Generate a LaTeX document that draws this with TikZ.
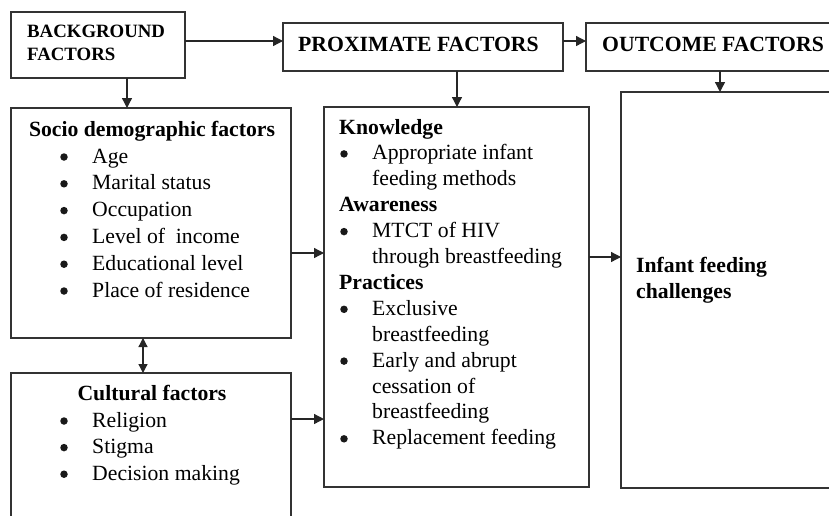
\documentclass[tikz,border=0pt]{standalone}
\usepackage{fontspec}
\setmainfont{Liberation Serif}
\usetikzlibrary{arrows.meta, positioning}

\tikzset{
  box/.style={draw=black!80, line width=1.4pt, inner sep=0pt, outer sep=0pt, anchor=north west},
  link/.style={draw=black!85, line width=1.3pt, -{Triangle[length=10pt,width=10pt]}},
  both/.style={draw=black!85, line width=1.3pt, {Triangle[length=9pt,width=9pt]}-{Triangle[length=9pt,width=9pt]}},
  txt/.style={inner sep=0pt, anchor=base west, font=\fontsize{21.7}{26.8}\selectfont},
  head/.style={txt, font=\bfseries\fontsize{21.7}{26.8}\selectfont},
  small/.style={txt, font=\bfseries\fontsize{18.8}{23}\selectfont},
  dot/.style={circle, fill=black!90, inner sep=0pt, minimum size=7.5pt},
}

\begin{document}
\begin{tikzpicture}[x=1pt, y=-1pt]
    % 画布大小
    \useasboundingbox (0,0) rectangle (829,515);
    \clip (0,0) rectangle (829,515);

    % 顶部三个方框
    \node[box, minimum width=174pt, minimum height=66pt] (bg) at (11,12) {};
    \node[box, minimum width=280pt, minimum height=48pt] (prox) at (283,23) {};
    \node[box, minimum width=268pt, minimum height=48pt] (outc) at (586,23) {};
    \node[small] (bgA) at (27,37) {BACKGROUND};
    \node[small] (bgB) at (27,60) {FACTORS};
    \node[head] (proxT) at (298,51) {PROXIMATE FACTORS};
    \node[head] (outcT) at (602,51) {OUTCOME FACTORS};

    % 下方方框
    \node[box, minimum width=280pt, minimum height=230pt] (socio) at (11,108) {};
    \node[box, minimum width=280pt, minimum height=200pt] (cult) at (11,373) {};
    \node[box, minimum width=265pt, minimum height=380pt] (know) at (324,107) {};
    \node[box, minimum width=260pt, minimum height=396pt] (chal) at (621,92) {};

    % 社会人口因素
    \node[head, anchor=base] (socioT) at (152,136) {Socio demographic factors};
    \foreach \t [count=\i from 0] in {Age, Marital status, Occupation,
        Level of\ \ income, Educational level, Place of residence} {
        \node[dot] (sb\i) at (64,{157+26.8*\i}) {};
        \node[txt] (si\i) at (92,{163+26.8*\i}) {\t};
    }

    % 文化因素
    \node[head, anchor=base] (cultT) at (152,400) {Cultural factors};
    \foreach \t [count=\i from 0] in {Religion, Stigma, Decision making} {
        \node[dot] (cb\i) at (64,{421+26.6*\i}) {};
        \node[txt] (ci\i) at (92,{427+26.6*\i}) {\t};
    }

    % 知识、意识、做法
    \node[head] (k0) at (339,134) {Knowledge};
    \node[dot] (kb1) at (344,153.9) {};
    \node[txt] (k1) at (372,159.9) {Appropriate infant};
    \node[txt] (k2) at (372,185.8) {feeding methods};
    \node[head] (k3) at (339,211.7) {Awareness};
    \node[dot] (kb4) at (344,231.6) {};
    \node[txt] (k4) at (372,237.6) {MTCT of HIV};
    \node[txt] (k5) at (372,263.5) {through breastfeeding};
    \node[head] (k6) at (339,289.4) {Practices};
    \node[dot] (kb7) at (344,309.3) {};
    \node[txt] (k7) at (372,315.3) {Exclusive};
    \node[txt] (k8) at (372,341.2) {breastfeeding};
    \node[dot] (kb9) at (344,361.1) {};
    \node[txt] (k9) at (372,367.1) {Early and abrupt};
    \node[txt] (k10) at (372,393.0) {cessation of};
    \node[txt] (k11) at (372,418.9) {breastfeeding};
    \node[dot] (kb12) at (344,438.8) {};
    \node[txt] (k12) at (372,444.8) {Replacement feeding};

    % 结果
    \node[head] (chA) at (636,272) {Infant feeding};
    \node[head] (chB) at (636,298) {challenges};

    % 箭头
    \draw[link] ([yshift=4pt]bg.east) -- ([yshift=4pt]bg.east -| prox.west);
    \draw[link] ([yshift=6pt]prox.east) -- ([yshift=6pt]prox.east -| outc.west);
    \draw[link] ([xshift=29pt]bg.south) -- ([xshift=29pt]bg.south |- socio.north);
    \draw[link] ([xshift=34pt]prox.south) -- ([xshift=34pt]prox.south |- know.north);
    \draw[link] (outc.south) -- (outc.south |- chal.north);
    \draw[link] ([yshift=-30pt]socio.east) -- ([yshift=-30pt]socio.east -| know.west);
    \draw[link] ([yshift=-46pt]cult.north east) -- ([yshift=-46pt]cult.north east -| know.west);
    \draw[link] ([yshift=40pt]know.east) -- ([yshift=40pt]know.east -| chal.west);
    \draw[both] ([xshift=-8pt]socio.south) -- ([xshift=-8pt]socio.south |- cult.north);

\end{tikzpicture}
\end{document}
